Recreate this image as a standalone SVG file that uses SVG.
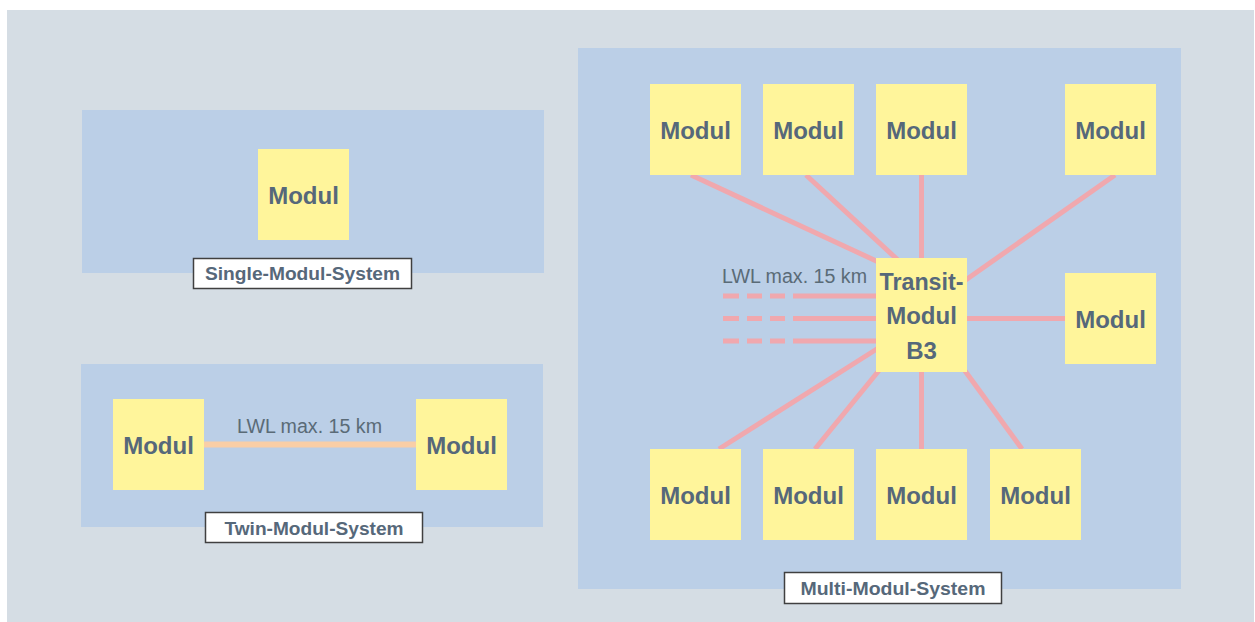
<svg xmlns="http://www.w3.org/2000/svg" width="1255" height="622" viewBox="0 0 1255 622">
<style>
.bg{fill:#D5DDE4}
.panel{fill:#BBCFE7}
.mod{fill:#FFF59B}
.mt{font-family:"Liberation Sans",Arial,sans-serif;font-weight:bold;font-size:24px;fill:#56687A;text-anchor:middle}
.lbl{fill:#FFFFFF;stroke:#404040;stroke-width:1.5}
.lt{font-family:"Liberation Sans",Arial,sans-serif;font-weight:bold;font-size:18px;fill:#56687A;text-anchor:middle}
.lwl{font-family:"Liberation Sans",Arial,sans-serif;font-size:20px;fill:#5A6B77}
.pk{stroke:#F0A8AE;stroke-width:5;fill:none}
.pe{stroke:#F9CEA6;stroke-width:6;fill:none}
</style>
<rect class="bg" x="7" y="10" width="1247" height="612"/>

<g id="single-system">
<rect class="panel" x="82" y="110" width="462" height="163"/>
</g>
<g id="twin-system">
<rect class="panel" x="81" y="364" width="462" height="163"/>
</g>
<g id="multi-system">
<rect class="panel" x="578" y="48" width="603" height="541"/>
</g>

<g id="connectors">
<line class="pe" x1="204" y1="444.5" x2="416" y2="444.5"/>
<line class="pk" x1="691" y1="175" x2="900" y2="272"/>
<line class="pk" x1="806" y1="175" x2="900" y2="262"/>
<line class="pk" x1="921.5" y1="175" x2="921.5" y2="260"/>
<line class="pk" x1="1115" y1="175" x2="960" y2="284"/>
<line class="pk" x1="967" y1="318.5" x2="1065" y2="318.5"/>
<line class="pk" x1="719" y1="449" x2="880" y2="347"/>
<line class="pk" x1="815" y1="449" x2="881" y2="368"/>
<line class="pk" x1="921.5" y1="370" x2="921.5" y2="449"/>
<line class="pk" x1="1022" y1="449" x2="960" y2="364"/>
<line class="pk" x1="723" y1="296" x2="878" y2="296" stroke-dasharray="16 8 15 8 15 8 200"/>
<line class="pk" x1="723" y1="318.5" x2="878" y2="318.5" stroke-dasharray="16 8 15 8 15 8 200"/>
<line class="pk" x1="723" y1="341" x2="878" y2="341" stroke-dasharray="16 8 15 8 15 8 200"/>
</g>

<text class="lwl" x="237" y="433" textLength="145" lengthAdjust="spacingAndGlyphs">LWL max. 15 km</text>
<text class="lwl" x="722" y="283" textLength="145" lengthAdjust="spacingAndGlyphs">LWL max. 15 km</text>

<g id="single-modul"><rect class="mod" x="258" y="149" width="91" height="91"/><text class="mt" x="303.5" y="203.5">Modul</text></g>
<g id="twin-modul-1"><rect class="mod" x="113" y="399" width="91" height="91"/><text class="mt" x="158.5" y="453.5">Modul</text></g>
<g id="twin-modul-2"><rect class="mod" x="416" y="399" width="91" height="91"/><text class="mt" x="461.5" y="453.5">Modul</text></g>

<g id="multi-top-1"><rect class="mod" x="650" y="84" width="91" height="91"/><text class="mt" x="695.5" y="138.5">Modul</text></g>
<g id="multi-top-2"><rect class="mod" x="763" y="84" width="91" height="91"/><text class="mt" x="808.5" y="138.5">Modul</text></g>
<g id="multi-top-3"><rect class="mod" x="876" y="84" width="91" height="91"/><text class="mt" x="921.5" y="138.5">Modul</text></g>
<g id="multi-top-4"><rect class="mod" x="1065" y="84" width="91" height="91"/><text class="mt" x="1110.5" y="138.5">Modul</text></g>
<g id="multi-right"><rect class="mod" x="1065" y="273" width="91" height="91"/><text class="mt" x="1110.5" y="327.5">Modul</text></g>
<g id="transit"><rect class="mod" x="876" y="258" width="91" height="114"/>
<text class="mt" x="921.5" y="290" textLength="84" lengthAdjust="spacingAndGlyphs">Transit-</text>
<text class="mt" x="921.5" y="324">Modul</text>
<text class="mt" x="921.5" y="358.5">B3</text></g>
<g id="multi-bottom-1"><rect class="mod" x="650" y="449" width="91" height="91"/><text class="mt" x="695.5" y="503.5">Modul</text></g>
<g id="multi-bottom-2"><rect class="mod" x="763" y="449" width="91" height="91"/><text class="mt" x="808.5" y="503.5">Modul</text></g>
<g id="multi-bottom-3"><rect class="mod" x="876" y="449" width="91" height="91"/><text class="mt" x="921.5" y="503.5">Modul</text></g>
<g id="multi-bottom-4"><rect class="mod" x="990" y="449" width="91" height="91"/><text class="mt" x="1035.5" y="503.5">Modul</text></g>

<g id="label-single"><rect class="lbl" x="193.5" y="258.5" width="218" height="30"/><text class="lt" x="302.5" y="280" textLength="195" lengthAdjust="spacingAndGlyphs">Single-Modul-System</text></g>
<g id="label-twin"><rect class="lbl" x="205.5" y="512.5" width="217" height="30"/><text class="lt" x="314" y="535" textLength="179" lengthAdjust="spacingAndGlyphs">Twin-Modul-System</text></g>
<g id="label-multi"><rect class="lbl" x="784.5" y="572.5" width="217" height="31"/><text class="lt" x="893" y="595" textLength="185" lengthAdjust="spacingAndGlyphs">Multi-Modul-System</text></g>
</svg>
